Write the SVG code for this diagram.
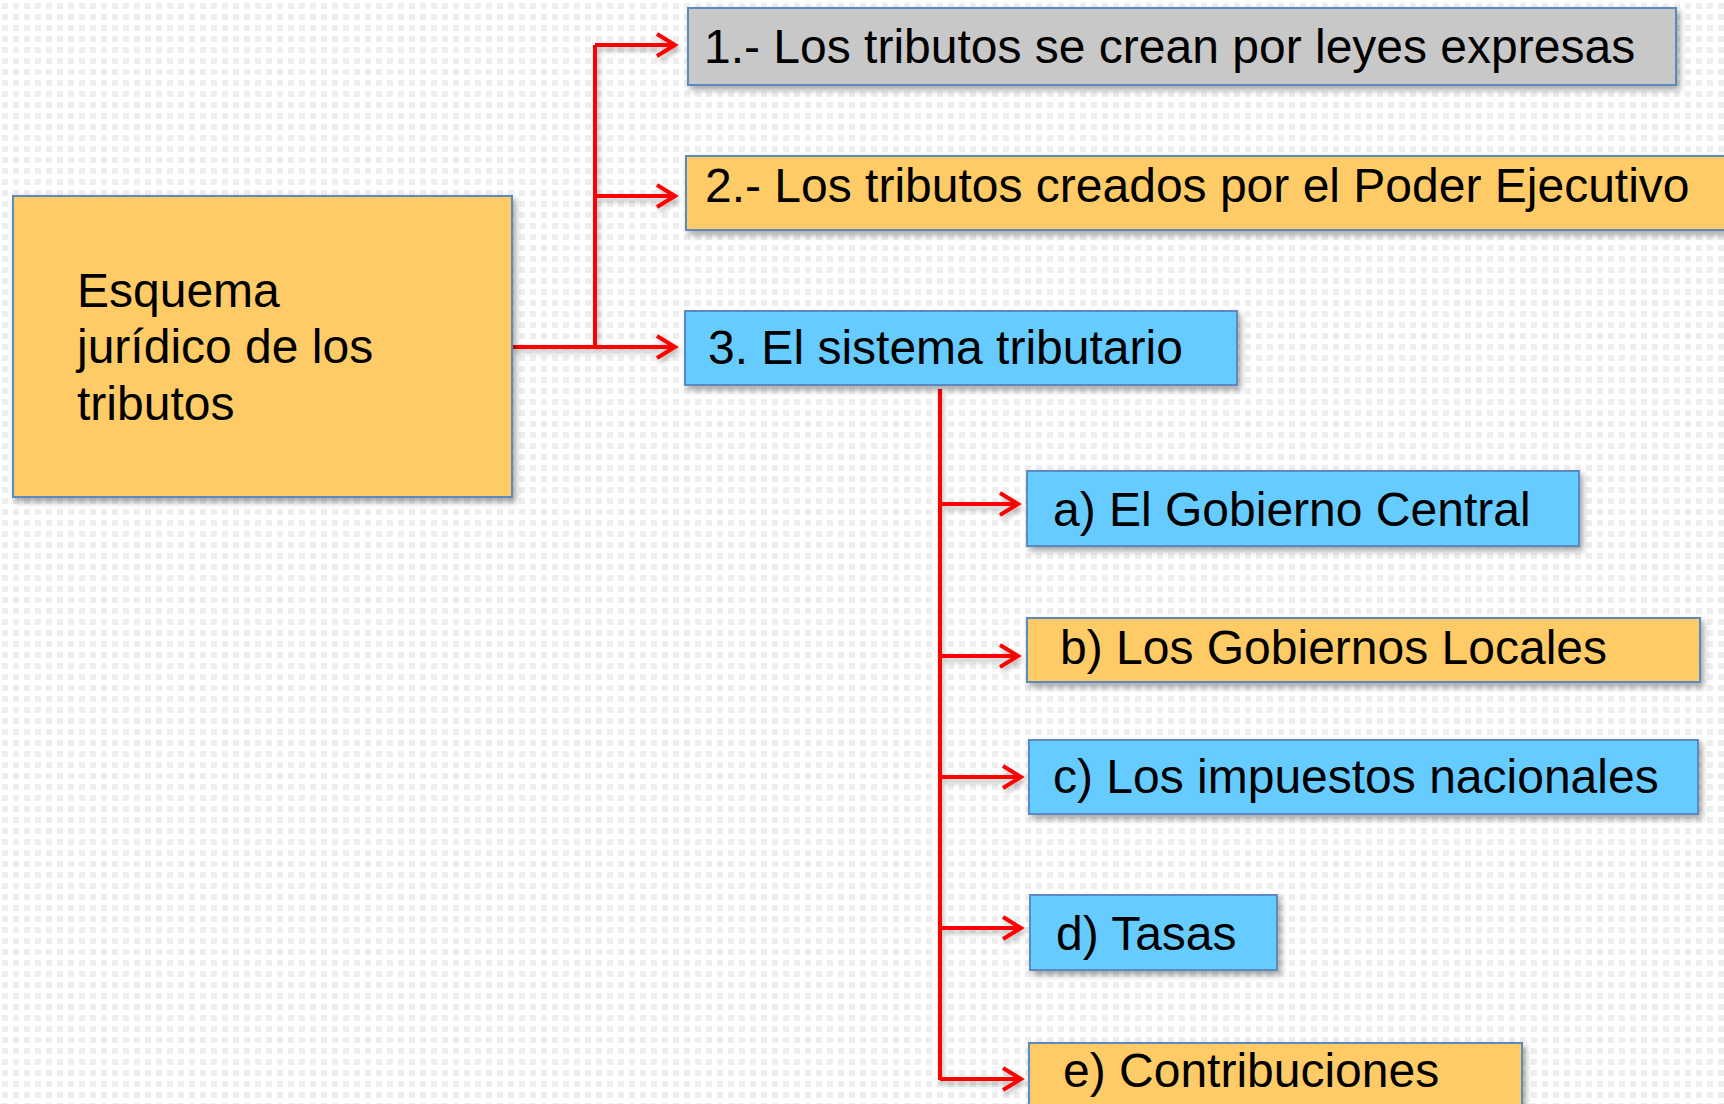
<svg xmlns="http://www.w3.org/2000/svg" width="1724" height="1104" viewBox="0 0 1724 1104">
  <style>
    .box { stroke: #5A8AC0; stroke-width: 2; filter: url(#shadow); }
    .orange { fill: #FECB66; }
    .blue { fill: #66CBFE; }
    .gray { fill: #C8C8C8; }
    .lbl { font-family: "Liberation Sans", Arial, sans-serif; font-size: 48px; fill: #000; }
    .conn { stroke: #FF0000; stroke-width: 4; fill: none; }
  </style>
  <defs>
    <pattern id="dots" x="0" y="0" width="11" height="11" patternUnits="userSpaceOnUse">
      <rect x="2" y="3" width="6" height="6" fill="#EEEEEE"/>
    </pattern>
    <filter id="shadow" x="-10%" y="-10%" width="130%" height="140%">
      <feDropShadow dx="3" dy="4" stdDeviation="3" flood-color="#000" flood-opacity="0.35"/>
    </filter>
    <filter id="lshadow" x="-5%" y="-5%" width="110%" height="110%">
      <feDropShadow dx="2" dy="4" stdDeviation="2.5" flood-color="#000" flood-opacity="0.25"/>
    </filter>
    <marker id="arrow" markerUnits="userSpaceOnUse" markerWidth="26" markerHeight="30" refX="21" refY="15" orient="auto">
      <path d="M3,4 L21,15 L3,26" fill="none" stroke="#FF0000" stroke-width="4"/>
    </marker>
  </defs>
  <rect width="1724" height="1104" fill="#FFFFFF"/>
  <rect width="1724" height="1104" fill="url(#dots)"/>

  <g id="connectors" filter="url(#lshadow)">
    <path class="conn" d="M595,45 L595,347"/>
    <path class="conn" d="M595,45 L675,45" marker-end="url(#arrow)"/>
    <path class="conn" d="M595,196 L675,196" marker-end="url(#arrow)"/>
    <path class="conn" d="M512,347 L675,347" marker-end="url(#arrow)"/>
    <path class="conn" d="M940,389 L940,1080"/>
    <path class="conn" d="M938,504 L1018,504" marker-end="url(#arrow)"/>
    <path class="conn" d="M938,656 L1018,656" marker-end="url(#arrow)"/>
    <path class="conn" d="M940,777 L1021,777" marker-end="url(#arrow)"/>
    <path class="conn" d="M940,928 L1021,928" marker-end="url(#arrow)"/>
    <path class="conn" d="M940,1079 L1021,1079" marker-end="url(#arrow)"/>
  </g>

  <g id="node-main">
    <rect class="box orange" x="13" y="196" width="499" height="301"/>
    <text class="lbl" x="77" y="307">Esquema</text>
    <text class="lbl" x="77" y="363">jurídico de los</text>
    <text class="lbl" x="77" y="420">tributos</text>
  </g>
  <g id="node-1">
    <rect class="box gray" x="688" y="8" width="988" height="77"/>
    <text class="lbl" x="704" y="63">1.- Los tributos se crean por leyes expresas</text>
  </g>
  <g id="node-2">
    <rect class="box orange" x="686" y="156" width="1060" height="74"/>
    <text class="lbl" x="705" y="202">2.- Los tributos creados por el Poder Ejecutivo</text>
  </g>
  <g id="node-3">
    <rect class="box blue" x="685" y="311" width="552" height="74"/>
    <text class="lbl" x="708" y="364">3. El sistema tributario</text>
  </g>
  <g id="node-a">
    <rect class="box blue" x="1027" y="471" width="552" height="75"/>
    <text class="lbl" x="1053" y="526">a) El Gobierno Central</text>
  </g>
  <g id="node-b">
    <rect class="box orange" x="1027" y="618" width="673" height="64"/>
    <text class="lbl" x="1060" y="664">b) Los Gobiernos Locales</text>
  </g>
  <g id="node-c">
    <rect class="box blue" x="1029" y="740" width="669" height="74"/>
    <text class="lbl" x="1053" y="793">c) Los impuestos nacionales</text>
  </g>
  <g id="node-d">
    <rect class="box blue" x="1030" y="895" width="247" height="75"/>
    <text class="lbl" x="1056" y="950">d) Tasas</text>
  </g>
  <g id="node-e">
    <rect class="box orange" x="1029" y="1043" width="493" height="80"/>
    <text class="lbl" x="1063" y="1087">e) Contribuciones</text>
  </g>
</svg>
